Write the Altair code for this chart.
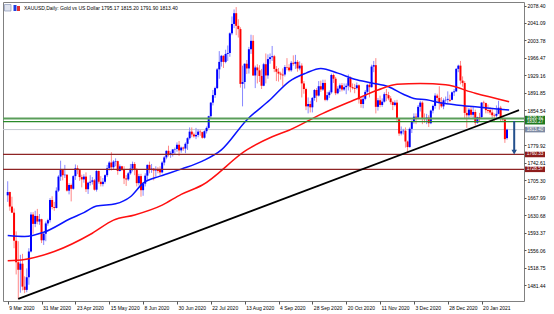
import altair as alt
import pandas as pd

# ---------------- data ----------------
opens = [1673,1680,1649,1636,1576,1530,1514,1527,1478,1471,
         1498,1553,1632,1612,1629,1617,1622,1577,1591,1613,
         1620,1663,1648,1646,1683,1713,1727,1716,1717,1683,
         1695,1687,1714,1731,1727,1712,1707,1713,1686,1700,
         1702,1705,1685,1725,1702,1697,1702,1716,1731,1743,
         1733,1745,1746,1725,1735,1729,1709,1707,1720,1730,
         1740,1727,1699,1714,1684,1698,1715,1738,1728,1730,
         1726,1727,1727,1722,1743,1754,1768,1761,1763,1771,
         1772,1781,1769,1775,1773,1783,1795,1809,1803,1799,
         1802,1809,1808,1796,1810,1817,1842,1871,1887,1902,
         1942,1958,1971,1958,1975,1977,2019,2039,2062,2035,
         2028,1911,1915,1954,1944,1985,2003,1929,1946,1940,
         1928,1907,1953,1929,1964,1968,1970,1943,1937,1933,
         1931,1931,1947,1946,1940,1956,1954,1958,1944,1950,
         1912,1900,1863,1868,1861,1881,1898,1886,1906,1899,
         1913,1877,1887,1893,1930,1922,1891,1901,1908,1899,
         1904,1907,1924,1904,1902,1902,1908,1878,1868,1879,
         1894,1909,1904,1948,1951,1862,1876,1866,1873,1889,
         1887,1880,1872,1866,1871,1837,1805,1810,1811,1788,
         1776,1815,1830,1841,1839,1862,1871,1838,1836,1839,
         1827,1854,1864,1886,1881,1872,1863,1876,1877,1877,
         1877,1893,1895,1943,1950,1918,1913,1849,1844,1856,
         1845,1851,1828,1840,1840,1871,1870,1855,1855,1850,
         1844,1843,1847,1860,1838,1835,1795.17]
highs = [1703,1681,1670,1645,1596,1575,1546,1548,1500,1517,
         1560,1637,1637,1640,1644,1633,1623,1594,1617,1623,
         1667,1671,1659,1690,1716,1747,1728,1738,1718,1699,
         1698,1716,1739,1737,1729,1717,1718,1722,1702,1716,
         1712,1708,1727,1726,1714,1710,1718,1738,1746,1765,
         1748,1752,1747,1739,1736,1735,1716,1723,1740,1745,
         1744,1731,1719,1719,1701,1720,1739,1745,1740,1731,
         1735,1733,1735,1746,1757,1769,1779,1767,1772,1775,
         1786,1789,1777,1777,1786,1797,1818,1818,1807,1817,
         1814,1813,1809,1812,1820,1843,1872,1898,1905,1945,
         1981,1973,1972,1984,1993,2021,2055,2070,2075,2049,
         2032,1950,1955,1962,1990,2016,2015,1950,1953,1951,
         1943,1956,1976,1974,1976,1992,1973,1949,1945,1937,
         1944,1951,1966,1953,1960,1972,1973,1962,1959,1955,
         1917,1903,1882,1875,1883,1900,1902,1917,1918,1920,
         1920,1894,1897,1933,1933,1926,1906,1912,1913,1912,
         1912,1931,1927,1912,1911,1914,1910,1881,1884,1898,
         1911,1913,1952,1960,1966,1881,1886,1880,1893,1900,
         1894,1885,1875,1876,1877,1838,1820,1815,1818,1790,
         1818,1833,1848,1848,1866,1875,1874,1848,1847,1844,
         1856,1867,1891,1890,1906,1883,1880,1884,1895,1888,
         1895,1900,1945,1952,1960,1927,1917,1864,1860,1863,
         1862,1856,1841,1849,1872,1875,1871,1867,1861,1858,
         1848,1865,1875,1864,1843,1837,1815.20]
lows = [1659,1640,1635,1560,1504,1451,1465,1470,1464,1466,
        1482,1551,1591,1605,1611,1610,1571,1567,1575,1608,
        1615,1643,1640,1645,1680,1704,1705,1710,1681,1675,
        1660,1685,1706,1718,1704,1690,1700,1680,1676,1694,
        1696,1683,1681,1698,1692,1692,1698,1712,1726,1726,
        1727,1735,1717,1724,1725,1697,1693,1704,1717,1724,
        1716,1692,1694,1670,1672,1692,1705,1720,1721,1705,
        1713,1720,1716,1720,1737,1750,1756,1753,1756,1760,
        1766,1757,1764,1768,1763,1770,1792,1797,1796,1793,
        1797,1800,1794,1794,1805,1815,1837,1865,1881,1900,
        1922,1948,1945,1955,1960,1969,2015,2030,2015,2010,
        1903,1863,1901,1932,1933,1975,1928,1902,1912,1915,
        1900,1906,1912,1922,1954,1960,1936,1917,1916,1920,
        1906,1927,1940,1937,1937,1950,1943,1937,1940,1882,
        1890,1855,1848,1850,1850,1875,1872,1884,1894,1896,
        1874,1874,1881,1890,1913,1887,1889,1894,1895,1896,
        1889,1897,1893,1899,1891,1899,1869,1860,1859,1876,
        1889,1882,1903,1936,1848,1854,1861,1862,1871,1874,
        1876,1867,1855,1863,1829,1800,1801,1803,1775,1764,
        1775,1806,1826,1825,1837,1852,1825,1828,1825,1819,
        1825,1848,1858,1873,1856,1860,1857,1869,1870,1872,
        1876,1885,1894,1936,1910,1905,1836,1817,1837,1840,
        1837,1822,1826,1830,1836,1858,1848,1848,1845,1836,
        1832,1838,1846,1830,1830,1785,1791.90]
closes = [1680,1649,1636,1576,1530,1514,1527,1478,1471,1498,
          1553,1632,1612,1629,1617,1622,1577,1591,1613,1620,
          1663,1648,1646,1683,1713,1727,1716,1717,1683,1695,
          1687,1714,1731,1727,1712,1707,1713,1686,1700,1702,
          1705,1685,1725,1702,1697,1702,1716,1731,1743,1733,
          1745,1746,1725,1735,1729,1709,1707,1720,1730,1740,
          1727,1699,1714,1684,1698,1715,1738,1728,1730,1726,
          1727,1725,1722,1743,1754,1768,1761,1763,1771,1772,
          1781,1769,1775,1773,1783,1795,1809,1803,1799,1802,
          1809,1808,1796,1810,1817,1842,1871,1887,1902,1942,
          1958,1971,1958,1975,1977,2019,2039,2062,2035,2028,
          1911,1915,1954,1944,1985,2003,1929,1946,1940,1928,
          1907,1953,1929,1964,1968,1970,1943,1937,1933,1931,
          1929,1947,1946,1940,1956,1954,1958,1944,1950,1912,
          1900,1863,1868,1861,1881,1898,1886,1906,1899,1913,
          1877,1887,1893,1930,1922,1891,1901,1908,1899,1904,
          1907,1924,1904,1902,1900,1908,1878,1868,1879,1894,
          1909,1904,1948,1951,1862,1876,1866,1873,1889,1887,
          1880,1872,1866,1871,1837,1805,1810,1811,1788,1776,
          1815,1830,1841,1839,1862,1871,1838,1836,1839,1827,
          1854,1864,1886,1881,1872,1863,1876,1877,1879,1875,
          1893,1895,1943,1950,1918,1913,1849,1844,1856,1845,
          1851,1828,1840,1838,1871,1870,1855,1853,1850,1844,
          1843,1847,1860,1838,1835,1793,1813.40]

# moving averages (bar index, price)
ma_blue_bars = [0, 8, 17, 30, 36, 42, 51, 58, 64, 72, 82, 92, 101, 113, 124, 133, 141, 148,
                156, 164, 172, 180, 187, 192, 198, 205, 212, 221, 237]
ma_blue_vals = [1587, 1585, 1594, 1624, 1636, 1650, 1655, 1670, 1699, 1714, 1729, 1746, 1770,
                1834, 1877, 1916, 1934, 1944, 1934, 1921, 1913, 1905, 1889, 1880, 1877, 1870,
                1866, 1862, 1855]
ma_red_bars = [0, 8, 22, 40, 50, 60, 73, 82, 92, 113, 125, 133, 149, 164, 175, 184, 195, 207, 221, 237]
ma_red_vals = [1533, 1536, 1553, 1592, 1620, 1631, 1652, 1675, 1695, 1770, 1798, 1812, 1848,
               1877, 1898, 1910, 1912, 1909, 1891, 1873]

# trend line through the March and November lows
trend_bars = [5, 241.67]
trend_vals = [1452, 1854.8]

# horizontal levels
green_hi = [1836.92]
green_lo = [1830.27]
red_levels = [1760.33, 1728.57]
last_price = [1813.40]

# arrow
arrow_bar = [239.4]
arrow_top = [1831.7]
arrow_bottom = [1765.5]

date_labels = ["9 Mar 2020", "31 Mar 2020", "23 Apr 2020", "15 May 2020", "8 Jun 2020",
               "30 Jun 2020", "22 Jul 2020", "13 Aug 2020", "4 Sep 2020", "28 Sep 2020",
               "20 Oct 2020", "11 Nov 2020", "3 Dec 2020", "28 Dec 2020", "20 Jan 2021"]
date_ticks = [16 * k for k in range(len(date_labels))]
price_ticks = [2078.40, 2041.09, 2003.78, 1966.47, 1929.16, 1891.85, 1854.54,
               1779.92, 1742.61, 1705.30, 1667.99, 1630.68, 1593.37, 1556.06,
               1518.75, 1481.44]

header = "XAUUSD,Daily:  Gold vs US Dollar  1795.17 1815.20 1791.90 1813.40"

# ---------------- chart ----------------
FONT = "Liberation Sans"
candles = pd.DataFrame({"bar": list(range(len(closes))), "open": opens,
                        "high": highs, "low": lows, "close": closes})

x_scale = alt.Scale(domain=[0.139, 241.67], nice=False, zero=False)
y_scale = alt.Scale(domain=[1447.3, 2085.9], nice=False, zero=False)

label_expr = "[" + ",".join("'%s'" % s for s in date_labels) + "][round(datum.value/16)]"

AX_X = alt.Axis(values=date_ticks, labelExpr=label_expr, labelAlign="left",
                labelOffset=1, tickSize=3, labelPadding=1, grid=False, title=None,
                domain=False, labelFontSize=5, labelFont=FONT, labelColor="#000",
                tickColor="#555", labelOverlap=False, labelFlush=False)
AX_Y = alt.Axis(orient="right", values=price_ticks, format=".2f", tickSize=2,
                labelPadding=1, grid=False, title=None, domain=False,
                labelFontSize=5, labelFont=FONT, labelColor="#000",
                tickColor="#555", labelOverlap=False, labelFlush=False)


def X(field):
    return alt.X(field, scale=x_scale, axis=AX_X)


def Y(field):
    return alt.Y(field, scale=y_scale, axis=AX_Y)


up = "datum.close >= datum.open"

wicks = alt.Chart(candles).mark_rule(strokeWidth=1, clip=True).encode(
    x=X("bar:Q"), y=Y("low:Q"), y2="high:Q",
    color=alt.condition(up, alt.value("#8888ff"), alt.value("#ff8888")),
)

bodies = alt.Chart(candles).mark_bar(size=2, clip=True).encode(
    x=X("bar:Q"), y=Y("open:Q"), y2="close:Q",
    color=alt.condition(up, alt.value("#0000ff"), alt.value("#ff0000")),
)


def level(vals, color, width):
    return alt.Chart(pd.DataFrame({"p": vals})).mark_rule(color=color, strokeWidth=width).encode(
        y=Y("p:Q"))


price_line = level(last_price, "#c4c8d0", 1)

blue_ma = alt.Chart(pd.DataFrame({"bar": ma_blue_bars, "p": ma_blue_vals})).mark_line(
    color="#0a14ff", strokeWidth=1.5, interpolate="monotone", clip=True).encode(
    x=X("bar:Q"), y=Y("p:Q"))
red_ma = alt.Chart(pd.DataFrame({"bar": ma_red_bars, "p": ma_red_vals})).mark_line(
    color="#ff1010", strokeWidth=1.5, interpolate="monotone", clip=True).encode(
    x=X("bar:Q"), y=Y("p:Q"))

green1 = level(green_hi, "#5a9e5a", 2)
green2 = level(green_lo, "#2a8a2a", 1.3)
reds = level(red_levels, "#8e2424", 1.3)

trend = alt.Chart(pd.DataFrame({"bar": trend_bars, "p": trend_vals})).mark_line(
    color="#000000", strokeWidth=1.8, clip=True).encode(
    x=X("bar:Q"), y=Y("p:Q"))

arrow_df = pd.DataFrame({"bar": arrow_bar, "top": arrow_top, "bottom": arrow_bottom})
arrow_shaft = alt.Chart(arrow_df).mark_rule(color="#24508c", strokeWidth=2).encode(
    x=X("bar:Q"), y=Y("top:Q"), y2="bottom:Q")
arrow_head = alt.Chart(arrow_df).mark_point(shape="triangle-down", filled=True, size=30,
                                            color="#24508c", opacity=1).encode(
    x=X("bar:Q"), y=Y("bottom:Q"))

BOX = "M-1,-0.28L1,-0.28L1,0.28L-1,0.28Z"


def price_box(vals, color, dy=0):
    df = pd.DataFrame({"p": vals, "t": ["%.2f" % v for v in vals]})
    box = alt.Chart(df).mark_point(shape=BOX, filled=True, size=400, opacity=1,
                                   strokeWidth=0, color=color).encode(
        x=alt.value(532), y=Y("p:Q"))
    txt = alt.Chart(df).mark_text(fontSize=4.6, font=FONT, color="white", dy=dy,
                                  align="center", baseline="middle").encode(
        x=alt.value(532), y=Y("p:Q"), text="t:N")
    return box, txt


g1b, g1t = price_box(green_hi, "#1f7a1f", -0.8)
g2b, g2t = price_box(green_lo, "#1f7a1f", 0.8)
lpb, lpt = price_box(last_price, "#7d8aa3")
rb, rt = price_box(red_levels, "#8e1c1c")

one = pd.DataFrame({"a": [0]})
icon1 = alt.Chart(one).mark_rect(fill="#dfe3ee", stroke="#8a96b8", strokeWidth=0.7).encode(
    x=alt.value(1.5), x2=alt.value(8), y=alt.value(2.5), y2=alt.value(9))
icon2a = alt.Chart(one).mark_rect(fill="#2040e0").encode(
    x=alt.value(10.5), x2=alt.value(13.5), y=alt.value(3), y2=alt.value(9))
icon2b = alt.Chart(one).mark_rect(fill="#e03030").encode(
    x=alt.value(14), x2=alt.value(17), y=alt.value(4), y2=alt.value(9))
title = alt.Chart(pd.DataFrame({"t": [header]})).mark_text(
    fontSize=5, font=FONT, color="#000", align="left", baseline="middle").encode(
    x=alt.value(21), y=alt.value(5.5), text="t:N")

chart = alt.layer(
    price_line, wicks, bodies, blue_ma, red_ma, green1, green2, reds, trend,
    arrow_shaft, arrow_head, g1b, g2b, lpb, rb, g1t, g2t, lpt, rt,
    icon1, icon2a, icon2b, title
).properties(
    width=521, height=299,
    autosize=alt.AutoSizeParams(type="none"),
    padding={"left": 3, "top": 2, "right": 30, "bottom": 13},
    background="white",
).configure_view(stroke="#808080", strokeWidth=1)

chart.save("out.html", embed_options={"renderer": "svg", "actions": False})
